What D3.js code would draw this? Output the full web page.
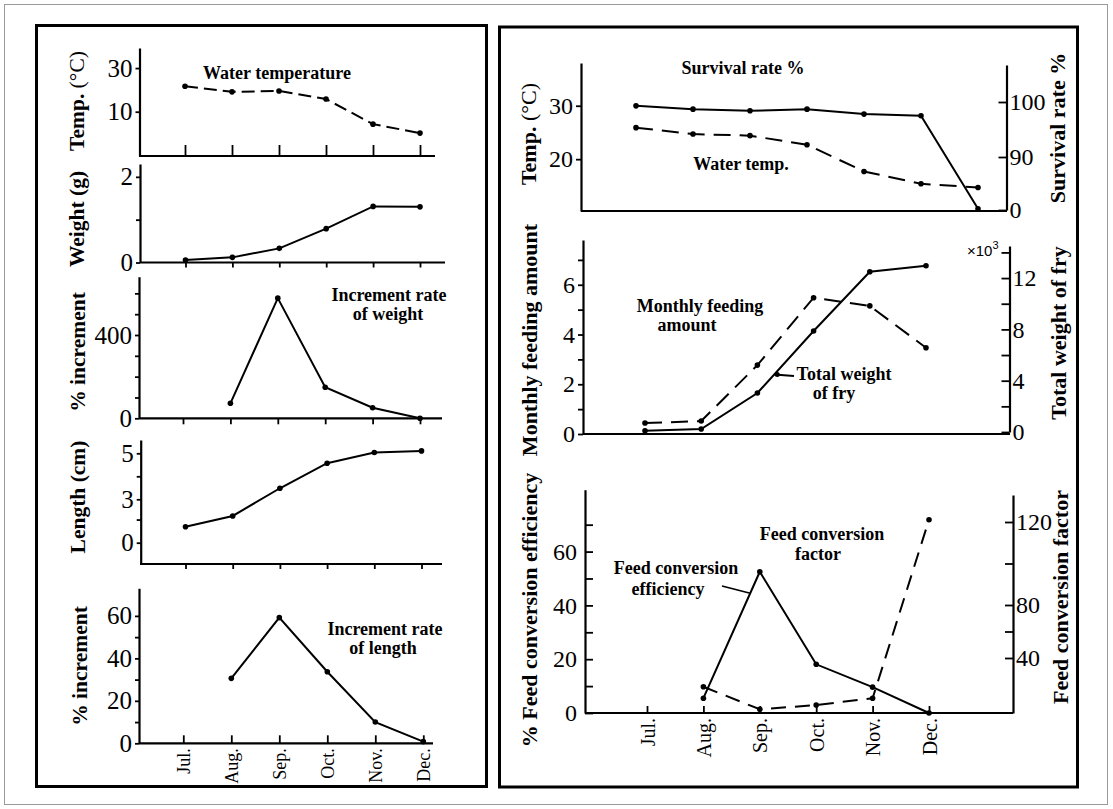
<!DOCTYPE html>
<html><head><meta charset="utf-8">
<script src="https://cdn.jsdelivr.net/npm/d3@7"></script>
<style>
body{margin:0;background:#fff;}
svg text{fill:#000;}
</style></head><body>
<script>
// ---------------- data ----------------
const months = ["Jul.","Aug.","Sep.","Oct.","Nov.","Dec."];
const incMonths = ["Aug.","Sep.","Oct.","Nov.","Dec."];
const samples = ["s1","s2","s3","s4","s5","s6","s7"];

const waterTempA = [21.7, 19.1, 19.5, 15.8, 4.3, 0.2];
const fryWeight = [0.06, 0.12, 0.33, 0.79, 1.31, 1.30];
const weightIncrement = [72, 577, 149, 51, 0];
const fryLength = [1.1, 1.85, 3.48, 4.57, 5.03, 5.1];
const lengthIncrement = [30.6, 59.2, 33.7, 10, 0.8];

const survivalRate = [99.3, 98.7, 98.4, 98.7, 97.8, 97.5, 2];
const waterTempB = [25.9, 24.7, 24.4, 22.7, 17.7, 15.4, 14.7];
const monthlyFeeding = [0.44, 0.52, 2.77, 5.48, 5.15, 3.47];
const totalFryWeight = [0.1, 0.23, 3.04, 7.87, 12.49, 12.96];
const feedEfficiency = [5.5, 52.5, 18.1, 9.6, 0];
const feedFactor = [19.1, 2.7, 5.8, 10.7, 121];

// tick values / labels
const tempATicks = [10, 30], tempALabels = [10, 30];
const weightTicks = [0, 1, 2], weightLabels = [0, 2];
const wIncTicks = [0, 100, 200, 300, 400, 500, 600], wIncLabels = [0, 400];
const lengthTicks = [0, 1.6, 3, 4, 5], lengthLabels = [0, 3, 5];
const lIncTicks = [0, 10, 20, 30, 40, 50, 60], lIncLabels = [0, 20, 40, 60];
const tempBTicks = [20, 30], tempBLabels = [20, 30];
const survTicks = [0, 90, 100], survLabels = [0, 90, 100];
const feedTicks = [0, 1, 2, 3, 4, 5, 6, 7], feedLabels = [0, 2, 4, 6];
const twTicks = [0, 2, 4, 6, 8, 10, 12, 14], twLabels = [0, 4, 8, 12];
const effTicks = [0, 10, 20, 30, 40, 50, 60, 70], effLabels = [0, 20, 40, 60];
const facTicks = [40, 60, 80, 100, 120], facLabels = [40, 80, 120];

// ---------------- drawing ----------------
const SERIF = '"Liberation Serif","Times New Roman",serif';
const svg = d3.select("body").append("svg").attr("width", 1113).attr("height", 809)
  .style("font-family", SERIF);

svg.append("rect").attr("x", 4.5).attr("y", 4.5).attr("width", 1103).attr("height", 800)
  .attr("fill", "none").attr("stroke", "#9a9a9a").attr("stroke-width", 1);
svg.append("rect").attr("x", 36.5).attr("y", 25.5).attr("width", 450).attr("height", 761)
  .attr("fill", "none").attr("stroke", "#000").attr("stroke-width", 3);
svg.append("rect").attr("x", 499.5).attr("y", 27).attr("width", 578).attr("height", 760)
  .attr("fill", "none").attr("stroke", "#000").attr("stroke-width", 3);

function yAxis(scale, x, side, ticks, labelled, size, pad, fs) {
  const gen = (side === "left" ? d3.axisLeft : d3.axisRight)(scale)
    .tickValues(ticks).tickSizeInner(size).tickSizeOuter(0).tickPadding(pad)
    .tickFormat(d => labelled.includes(d) ? String(d) : "");
  const g = svg.append("g").attr("transform", `translate(${x},0)`).call(gen)
    .attr("font-family", SERIF).attr("font-size", fs);
  g.select(".domain").attr("stroke-width", 2.2);
  g.selectAll(".tick line").attr("stroke-width", 1.8);
  return g;
}

function xAxis(scale, y, x0, x1, tickSize, labels, fs) {
  svg.append("line").attr("x1", x0).attr("x2", x1).attr("y1", y).attr("y2", y)
    .attr("stroke", "#000").attr("stroke-width", 2.2);
  const gen = d3.axisBottom(scale).tickSizeInner(tickSize).tickSizeOuter(0).tickPadding(5)
    .tickFormat(labels ? (d => d) : "");
  const g = svg.append("g").attr("transform", `translate(0,${y})`).call(gen)
    .attr("font-family", SERIF).attr("font-size", fs || 10);
  g.select(".domain").remove();
  g.selectAll(".tick line").attr("stroke-width", 1.8);
  if (labels) {
    g.selectAll(".tick text").attr("transform", "rotate(-90)")
      .attr("text-anchor", "end").attr("x", -5).attr("y", 0).attr("dy", "0.35em");
  }
}

function series(xs, cats, ys, vals, dash) {
  const pts = cats.map((c, i) => [xs(c), ys(vals[i])]);
  svg.append("path").attr("d", d3.line()(pts)).attr("fill", "none")
    .attr("stroke", "#000").attr("stroke-width", 2)
    .attr("stroke-dasharray", dash || null);
  svg.append("g").selectAll("circle").data(pts).join("circle")
    .attr("cx", d => d[0]).attr("cy", d => d[1]).attr("r", 2.8).attr("fill", "#000");
  return pts;
}

function vLabel(x, y, parts, fs) {
  const t = svg.append("text").attr("transform", `translate(${x},${y}) rotate(-90)`)
    .attr("text-anchor", "middle").attr("dominant-baseline", "central").attr("font-size", fs);
  parts.forEach(p => t.append("tspan").attr("font-weight", p[1] ? "bold" : "normal").text(p[0]));
}

function note(lines, fs) {
  lines.forEach(l => svg.append("text").attr("x", l[1]).attr("y", l[2])
    .attr("text-anchor", "middle").attr("font-weight", "bold").attr("font-size", fs || 18).text(l[0]));
}

// ===== Left panel =====
// Water temperature
const xA1 = d3.scalePoint().domain(months).range([185, 420]);
const yA1 = d3.scaleLinear().domain([-10.3, 39.2]).range([156, 48]);
yAxis(yA1, 139.5, "left", tempATicks, tempALabels, 4, 3, 25);
xAxis(xA1, 156, 139, 435, -11);
series(xA1, months, yA1, waterTempA, "13,6");
vLabel(77, 101, [["Temp. ", true], ["(°C)", false]], 21.5);
note([["Water temperature", 277, 79]]);

// Weight
const xA2 = d3.scalePoint().domain(months).range([185.5, 420]);
const yA2 = d3.scaleLinear().domain([0, 2.3]).range([262.5, 164]);
yAxis(yA2, 140, "left", weightTicks, weightLabels, 4, 3, 25);
xAxis(xA2, 262.5, 140, 445, 5);
series(xA2, months, yA2, fryWeight);
vLabel(77, 219, [["Weight (g)", true]], 21.5);

// Increment rate of weight
const xA3 = d3.scalePoint().domain(months).range([183, 420]);
const yA3 = d3.scaleLinear().domain([0, 680]).range([418.3, 276.7]);
yAxis(yA3, 139, "left", wIncTicks, wIncLabels, 4, 3, 25);
xAxis(xA3, 418.3, 139, 442, 6);
series(xA3, incMonths, yA3, weightIncrement);
vLabel(78, 352, [["% increment", true]], 21.5);
note([["Increment rate", 389, 301], ["of weight", 388, 320]]);

// Length
const xA4 = d3.scalePoint().domain(months).range([185.5, 421.5]);
const yA4 = d3.scaleLinear().domain([-1.47, 0, 3, 5, 5.55]).range([564, 542.7, 499.3, 453.3, 440]);
yAxis(yA4, 140.7, "left", lengthTicks, lengthLabels, 4, 3, 25);
xAxis(xA4, 564, 140, 442, 5);
series(xA4, months, yA4, fryLength);
vLabel(78, 497, [["Length (cm)", true]], 21.5);

// Increment rate of length
const xA5 = d3.scalePoint().domain(months).range([183.3, 423.3]);
const yA5 = d3.scaleLinear().domain([0, 73]).range([743.3, 588.3]);
yAxis(yA5, 139, "left", lIncTicks, lIncLabels, 4, 3, 25);
xAxis(xA5, 743.3, 139, 433, -8, true, 18);
series(xA5, incMonths, yA5, lengthIncrement);
vLabel(80, 666, [["% increment", true]], 21.5);
note([["Increment rate", 385, 635], ["of length", 383, 654]]);

// ===== Right panel =====
// Survival rate & water temp
const xB1 = d3.scalePoint().domain(samples).range([636, 978]);
const yB1t = d3.scaleLinear().domain([10.3, 38]).range([211, 63]);
const yB1s = d3.scaleLinear().domain([0, 90, 100, 107]).range([210, 157, 102, 65]);
yAxis(yB1t, 581, "left", tempBTicks, tempBLabels, 5, 3, 24);
yAxis(yB1s, 1006.5, "right", survTicks, survLabels, -8, 3, 24);
xAxis(xB1, 211, 581, 1007, 0);
series(xB1, samples, yB1s, survivalRate);
series(xB1, samples, yB1t, waterTempB, "17,9");
vLabel(528, 134, [["Temp. ", true], ["(°C)", false]], 22);
vLabel(1057, 128, [["Survival rate %", true]], 22);
note([["Survival rate %", 743, 74], ["Water temp.", 741, 170]]);

// Monthly feeding & total weight
const xB2 = d3.scalePoint().domain(months).range([645, 926]);
const yB2f = d3.scaleLinear().domain([0, 7.8]).range([434, 240]);
const yB2w = d3.scaleLinear().domain([0, 14.5]).range([432, 246]);
yAxis(yB2f, 583, "left", feedTicks, feedLabels, 5, 3, 24);
yAxis(yB2w, 1009.5, "right", twTicks, twLabels, -8, 3, 24);
xAxis(xB2, 434, 583, 1010, 0);
const twPts = series(xB2, months, yB2w, totalFryWeight);
series(xB2, months, yB2f, monthlyFeeding, "17,9");
vLabel(529, 340, [["Monthly feeding amount", true]], 22);
vLabel(1058, 333, [["Total weight of fry", true]], 22);
const sup = svg.append("text").attr("x", 967).attr("y", 256).attr("font-family", '"Liberation Sans",Arial,sans-serif').attr("font-size", 15);
sup.append("tspan").text("×10");
sup.append("tspan").attr("dy", -7).attr("font-size", 11).text("3");
note([["Monthly feeding", 700, 312], ["amount", 687, 331], ["Total weight", 844, 380], ["of fry", 834, 399]]);
{
  const a = twPts[2], b = twPts[3], t = 0.3;
  const p = [a[0] + (b[0] - a[0]) * t, a[1] + (b[1] - a[1]) * t];
  svg.append("line").attr("x1", p[0]).attr("y1", p[1]).attr("x2", 794).attr("y2", 376)
    .attr("stroke", "#000").attr("stroke-width", 2);
  svg.append("circle").attr("cx", p[0] + 3).attr("cy", p[1]).attr("r", 2.5).attr("fill", "#000");
}

// Feed conversion efficiency & factor
const xB3 = d3.scalePoint().domain(months).range([647, 929]);
const yB3e = d3.scaleLinear().domain([0, 83]).range([713, 489.7]);
const yB3f = d3.scaleLinear().domain([0, 40, 80, 120, 132]).range([713, 658, 605, 522, 495]);
yAxis(yB3e, 585, "left", effTicks, effLabels, -8, 8, 24);
yAxis(yB3f, 1013, "right", facTicks, facLabels, -8, 3, 24);
xAxis(xB3, 713, 585, 1013, -7, true, 20);
const effPts = series(xB3, incMonths, yB3e, feedEfficiency);
series(xB3, incMonths, yB3f, feedFactor, "15,9");
vLabel(529, 610, [["% Feed conversion efficiency", true]], 22);
vLabel(1060, 597, [["Feed conversion factor", true]], 22);
note([["Feed conversion", 822, 540], ["factor", 818, 560], ["Feed conversion", 676, 574], ["efficiency", 668, 595]]);
{
  const a = effPts[0], b = effPts[1], t = 0.83;
  const p = [a[0] + (b[0] - a[0]) * t, a[1] + (b[1] - a[1]) * t];
  svg.append("line").attr("x1", 722).attr("y1", 586).attr("x2", p[0]).attr("y2", p[1])
    .attr("stroke", "#000").attr("stroke-width", 1.8);
}
</script>
</body></html>
